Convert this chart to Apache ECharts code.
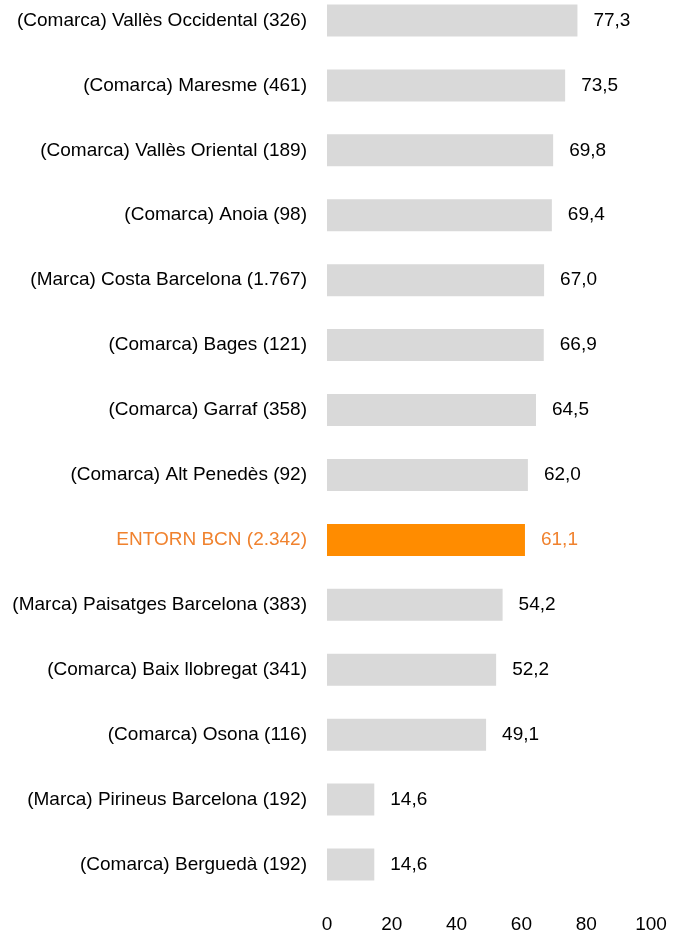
<!DOCTYPE html>
<html>
<head>
<meta charset="utf-8">
<style>
  html, body { margin: 0; padding: 0; background: #ffffff; overflow: hidden; }
  #chart { position: absolute; left: 0; top: -12px; width: 673px; height: 946px; }
</style>
<script src="https://cdn.jsdelivr.net/npm/echarts@6/dist/echarts.min.js"></script>
</head>
<body>
<div id="chart"></div>
<script>
const categories = [
  "(Comarca) Vallès Occidental (326)",
  "(Comarca) Maresme (461)",
  "(Comarca) Vallès Oriental (189)",
  "(Comarca) Anoia (98)",
  "(Marca) Costa Barcelona (1.767)",
  "(Comarca) Bages (121)",
  "(Comarca) Garraf (358)",
  "(Comarca) Alt Penedès (92)",
  "ENTORN BCN (2.342)",
  "(Marca) Paisatges Barcelona (383)",
  "(Comarca) Baix llobregat (341)",
  "(Comarca) Osona (116)",
  "(Marca) Pirineus Barcelona (192)",
  "(Comarca) Berguedà (192)"
];
const values = [77.3, 73.5, 69.8, 69.4, 67.0, 66.9, 64.5, 62.0, 61.1, 54.2, 52.2, 49.1, 14.6, 14.6];
const highlight = "ENTORN BCN (2.342)";
const xTicks = [0, 20, 40, 60, 80, 100];

const colors = {
  bar: "#d9d9d9",
  accentBar: "#ff8c00",
  accentText: "#f0822e",
  ink: "#000000"
};

const font = "'Liberation Sans', Arial, sans-serif";
const fmt = v => v.toFixed(1).replace(".", ",");

// chart div sits 12px above the page so the first band can start off-screen
const chart = echarts.init(document.getElementById("chart"), null, { renderer: "canvas" });
chart.setOption({
  animation: false,
  grid: { left: 327, right: 22, top: 0, height: 910, containLabel: false },
  xAxis: {
    type: "value",
    min: xTicks[0],
    max: xTicks[xTicks.length - 1],
    interval: 20,
    axisLine: { show: false },
    axisTick: { show: false },
    splitLine: { show: false },
    axisLabel: { color: colors.ink, fontFamily: font, fontSize: 19, margin: 18 }
  },
  yAxis: {
    type: "category",
    inverse: true,
    data: categories.map(name => name === highlight
      ? { value: name, textStyle: { color: colors.accentText } }
      : name),
    axisLine: { show: false },
    axisTick: { show: false },
    axisLabel: { color: colors.ink, fontFamily: font, fontSize: 19, margin: 20 }
  },
  series: [{
    type: "bar",
    barWidth: 32,
    data: values.map((v, i) => {
      const hot = categories[i] === highlight;
      return {
        value: v,
        itemStyle: { color: hot ? colors.accentBar : colors.bar },
        label: { color: hot ? colors.accentText : colors.ink }
      };
    }),
    label: {
      show: true,
      position: "right",
      distance: 16,
      fontFamily: font,
      fontSize: 19,
      formatter: p => fmt(p.value)
    }
  }]
});
</script>
</body>
</html>
